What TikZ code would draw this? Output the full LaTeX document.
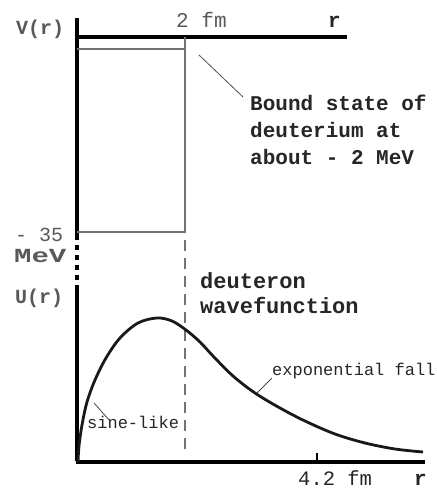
\documentclass[tikz,border=0pt]{standalone}
\usepackage{fontspec}
\setmainfont{Liberation Mono}
\begin{document}
\begin{tikzpicture}[x=1pt,y=-1pt,
  lbl/.style={inner sep=0pt,anchor=base west},
  axis/.style={line width=3.1pt,black},
  well/.style={line width=2.4pt,black!55},
  leader/.style={line width=0.8pt,black!70},
  greytext/.style={lbl,text=black!65},
  darktext/.style={lbl,text=black!85}]
\useasboundingbox (0,0) rectangle (437,488);
% upper part: potential well
\coordinate (vtop) at (77,18);
\coordinate (vwell) at (77,235);
\coordinate (vdash) at (77,285);
\coordinate (origin) at (77,462);
\coordinate (rend) at (425,462);
\coordinate (taxl) at (77,37);
\coordinate (taxr) at (347,37);
\coordinate (bsr) at (185,49);
\coordinate (bsl) at (77,49);
\coordinate (wtop) at (185,37);
\coordinate (wbot) at (185,232);
\coordinate (wbl) at (77,232);
\coordinate (dtop) at (185,240);
\coordinate (dbot) at (185,456);
\coordinate (lda) at (199,55);
\coordinate (ldb) at (243,97);

\draw[axis] (vtop) -- (vwell);
\draw[axis,dash pattern=on 5pt off 5pt] (vwell) -- (vdash);
\draw[axis] (vdash) -- ([yshift=1.5pt]origin) ;
\draw[axis] ([xshift=-1.5pt]origin) -- (rend);
\draw[axis] (taxl) -- (taxr);
\draw[well] (bsl) -- (bsr);
\draw[well] (wtop) -- (wbot) -- (wbl);
\draw[well,line width=2pt,dash pattern=on 11pt off 7pt] (dtop) -- (dbot);
\draw[leader] (lda) -- (ldb);

\node[greytext,font=\fontsize{20}{20}\selectfont\bfseries] (vr) at (16,34) {V(r)};
\node[greytext,font=\fontsize{21}{21}\selectfont] (twofm) at (176,27) {2 fm};
\node[darktext,font=\fontsize{21}{21}\selectfont\bfseries] (r1) at (328,27) {r};
\node[darktext,align=left,font=\fontsize{21}{27}\selectfont\bfseries,anchor=north west] (bound) at (250,95)
  {Bound state of\\deuterium at\\about - 2 MeV};
\node[greytext,font=\fontsize{20}{20}\selectfont] (m35) at (15,241) {- 35};
\node[greytext,font=\fontsize{20}{20}\selectfont\bfseries] (mev) at (14,262) {\scalebox{1.45}[1]{MeV}};
\node[greytext,font=\fontsize{20}{20}\selectfont\bfseries] (ur) at (15,303) {U(r)};
\node[darktext,align=left,font=\fontsize{22}{25}\selectfont\bfseries,anchor=north west] (deut) at (200,272)
  {deuteron\\wavefunction};
\node[darktext,font=\fontsize{17}{17}\selectfont] (expf) at (272,375) {exponential fall};
\node[darktext,font=\fontsize{17}{17}\selectfont] (sine) at (87,428) {sine-like};
\node[darktext,font=\fontsize{20.5}{20}\selectfont] (fourtwo) at (298,485) {4.2 fm};
\node[darktext,font=\fontsize{21}{21}\selectfont\bfseries] (r2) at (414,485) {r};

% tick at 4.2 fm
\coordinate (tk1) at (317,453);
\coordinate (tk2) at (317,462);
\draw[line width=2.2pt] (tk1) -- (tk2);

% wavefunction
\draw[line width=2.8pt,black!90,line join=round]
  plot[smooth,tension=0.55] coordinates {(78,462) (79,446) (82,425) (87,402) (95,380) (106,358) (120,338) (138,323) (157,318) (172,321) (186,330) (200,342) (213,356) (233,376) (255,393) (280,408) (305,421) (335,434) (365,443) (395,449) (423,452)};

% leaders on curve
\coordinate (ea) at (257,393);
\coordinate (eb) at (272,378);
\coordinate (sa) at (94,403);
\coordinate (sb) at (110,421);
\draw[leader] (ea) -- (eb);
\draw[leader] (sa) -- (sb);
\end{tikzpicture}
\end{document}
